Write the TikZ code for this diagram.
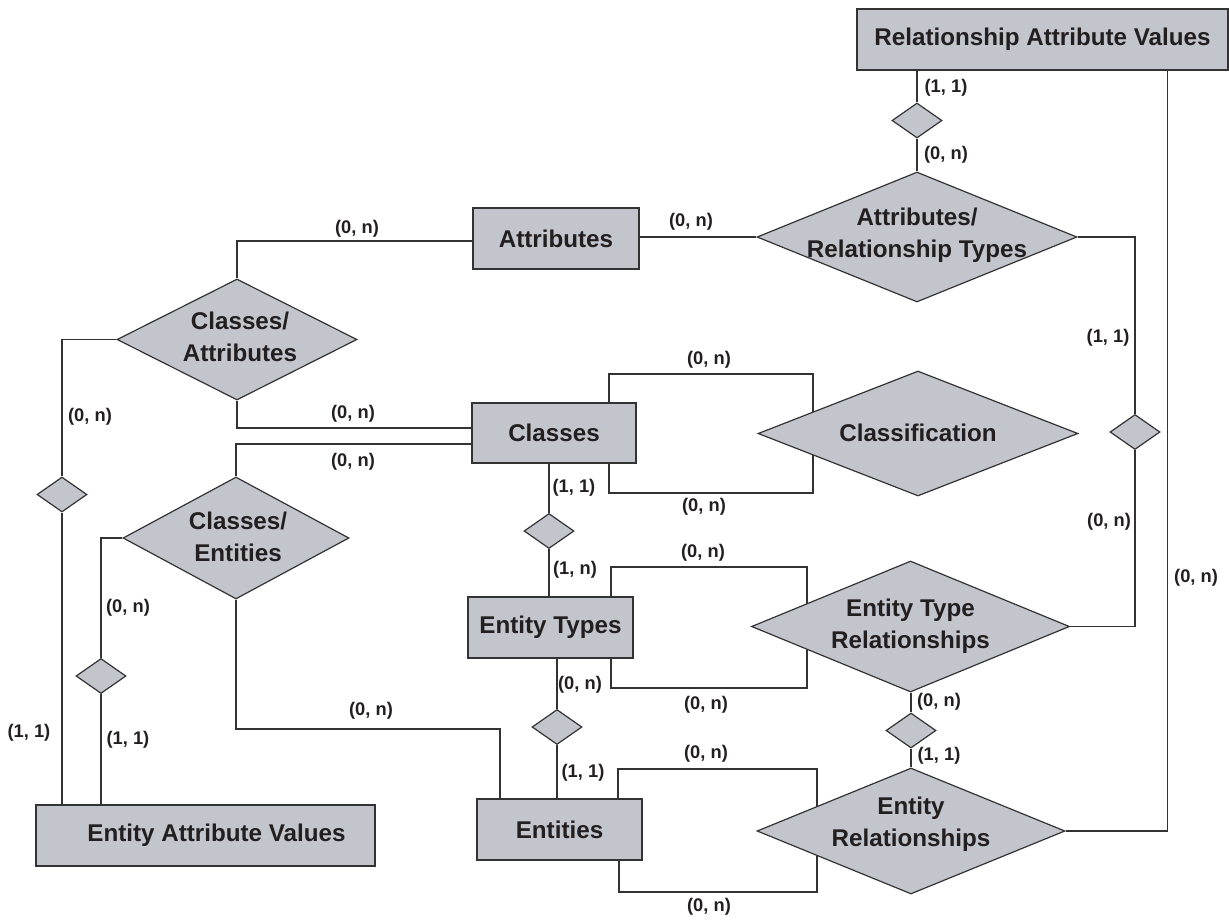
\documentclass[tikz,border=0pt]{standalone}
\usepackage{fontspec}
\setmainfont{Liberation Sans}
\usetikzlibrary{shapes.geometric,backgrounds}
\definecolor{boxfill}{HTML}{C3C5CC}
\definecolor{inkc}{HTML}{231F20}
\definecolor{linec}{HTML}{333333}
\begin{document}
\begin{tikzpicture}[x=1pt,y=-1pt,
  every node/.style={text=inkc},
  ent/.style={draw=linec, fill=boxfill, line width=1.4pt, inner sep=0pt, font=\fontsize{24.2}{32}\selectfont\bfseries},
  rel/.style={diamond, draw=linec, fill=boxfill, line width=1.2pt, inner sep=0pt},
  reltext/.style={font=\fontsize{24.2}{32}\selectfont\bfseries, align=center, inner sep=0pt},
  sdia/.style={diamond, draw=linec, fill=boxfill, line width=1.2pt, inner sep=0pt, minimum width=50pt, minimum height=35pt},
  card/.style={font=\fontsize{18.3}{20}\selectfont\bfseries, inner sep=0pt},
  conn/.style={draw=linec, line width=1.3pt}
]
\useasboundingbox (0,0) rectangle (1229,919);

% entity boxes
\node[ent, minimum width=371pt, minimum height=61pt] (rav) at (1042.5,39.5) {Relationship Attribute Values};
\node[ent, minimum width=166pt, minimum height=61pt] (attr) at (556,238.5) {Attributes};
\node[ent, minimum width=164pt, minimum height=60pt] (cls) at (554,433) {Classes};
\node[ent, minimum width=165pt, minimum height=61pt] (et) at (550.5,627.5) {Entity Types};
\node[ent, minimum width=165pt, minimum height=61pt] (ents) at (559.5,829.5) {Entities};
\node[ent, minimum width=339pt, minimum height=61pt] (eav) at (205.5,835.5) {\hspace*{22pt}Entity Attribute Values};

% relationship diamonds
\node[rel, minimum width=320pt, minimum height=130pt] (adr) at (917,237) {};
\node[reltext] (adrt) at (917,235) {Attributes/\\Relationship Types};
\node[rel, minimum width=240pt, minimum height=121pt] (ca) at (237,339.5) {};
\node[reltext] (cat) at (240,337) {Classes/\\Attributes};
\node[rel, minimum width=320pt, minimum height=125pt] (clsf) at (918,433.5) {};
\node[reltext] (clsft) at (918,433) {Classification};
\node[rel, minimum width=226pt, minimum height=122pt] (ce) at (236,538) {};
\node[reltext] (cet) at (238,537) {Classes/\\Entities};
\node[rel, minimum width=318pt, minimum height=131pt] (etr) at (910.5,626.5) {};
\node[reltext] (etrt) at (910.5,626) {Entity Type\\Relationships};
\node[rel, minimum width=308pt, minimum height=126pt] (er) at (911,831) {};
\node[reltext] (ert) at (911,824) {Entity\\Relationships};

% small diamonds
\node[sdia] (d1) at (917,120.5) {};
\node[sdia] (d2) at (1135,432) {};
\node[sdia] (d3) at (62,494.5) {};
\node[sdia] (d4) at (101,676) {};
\node[sdia] (d5) at (549,531) {};
\node[sdia] (d6) at (557,727) {};
\node[sdia] (d7) at (911,730.5) {};

% bend points
\coordinate (cebend) at (500,729);
\coordinate (clsT) at (813,374);
\coordinate (clsB) at (813,493);
\coordinate (etT) at (807,567);
\coordinate (etB) at (807,688);
\coordinate (enT) at (817,769);
\coordinate (enB) at (817,892);

\begin{scope}[on background layer]
\draw[conn] (rav.south -| d1.north) -- (d1.north);
\draw[conn] (d1.south) -- (adr.north);
\draw[conn] (attr.east |- adr.west) -- (adr.west);
\draw[conn] (adr.east) -| (d2.north);
\draw[conn] (d2.south) |- (etr.east);
\draw[conn] ([xshift=125pt]rav.south) |- (er.east);
\draw[conn] ([yshift=-2.5pt]attr.west) -| (ca.north);
\draw[conn] (ca.west) -| (d3.north);
\draw[conn] (d3.south) -- (d3.south |- eav.north);
\draw[conn] (ca.south) |- ([yshift=5pt]cls.west);
\draw[conn] ([yshift=-11pt]cls.west) -| (ce.north);
\draw[conn] (ce.west) -| (d4.north);
\draw[conn] (d4.south) -- (d4.south |- eav.north);
\draw[conn] (ce.south) |- (cebend) -- (cebend |- ents.north);
\draw[conn] ([xshift=55pt]cls.north) |- (clsT) -- (clsT |- clsf.center);
\draw[conn] ([xshift=55pt]cls.south) |- (clsB) -- (clsB |- clsf.center);
\draw[conn] (d5.north |- cls.south) -- (d5.north);
\draw[conn] (d5.south) -- (d5.south |- et.north);
\draw[conn] ([xshift=60.5pt]et.north) |- (etT) -- (etT |- etr.center);
\draw[conn] ([xshift=60.5pt]et.south) |- (etB) -- (etB |- etr.center);
\draw[conn] (d6.north |- et.south) -- (d6.north);
\draw[conn] (d6.south) -- (d6.south |- ents.north);
\draw[conn] (d7.north |- etr.south) -- (d7.north);
\draw[conn] (d7.south) -- (d7.south |- er.north);
\draw[conn] ([xshift=58.5pt]ents.north) |- (enT) -- (enT |- er.center);
\draw[conn] ([xshift=59.5pt]ents.south) |- (enB) -- (enB |- er.center);
\end{scope}

% cardinalities
\node[card] (l1) at (946,88) {(1, 1)};
\node[card] (l2) at (946,155) {(0, n)};
\node[card] (l3) at (691,222) {(0, n)};
\node[card] (l4) at (357,229) {(0, n)};
\node[card] (l5) at (1108,338) {(1, 1)};
\node[card] (l6) at (1109,522) {(0, n)};
\node[card] (l7) at (1196,578) {(0, n)};
\node[card] (l8) at (90,417) {(0, n)};
\node[card] (l9) at (29,733) {(1, 1)};
\node[card] (l10) at (353,414) {(0, n)};
\node[card] (l11) at (353,462) {(0, n)};
\node[card] (l12) at (709,360) {(0, n)};
\node[card] (l13) at (704,507) {(0, n)};
\node[card] (l14) at (574,488) {(1, 1)};
\node[card] (l15) at (575,570) {(1, n)};
\node[card] (l16) at (703,553) {(0, n)};
\node[card] (l17) at (706,705) {(0, n)};
\node[card] (l18) at (580,685) {(0, n)};
\node[card] (l19) at (583,773) {(1, 1)};
\node[card] (l20) at (939,702) {(0, n)};
\node[card] (l21) at (939,756) {(1, 1)};
\node[card] (l22) at (706,754) {(0, n)};
\node[card] (l23) at (709,907) {(0, n)};
\node[card] (l24) at (128,608) {(0, n)};
\node[card] (l25) at (128,740) {(1, 1)};
\node[card] (l26) at (371,711) {(0, n)};
\end{tikzpicture}
\end{document}
